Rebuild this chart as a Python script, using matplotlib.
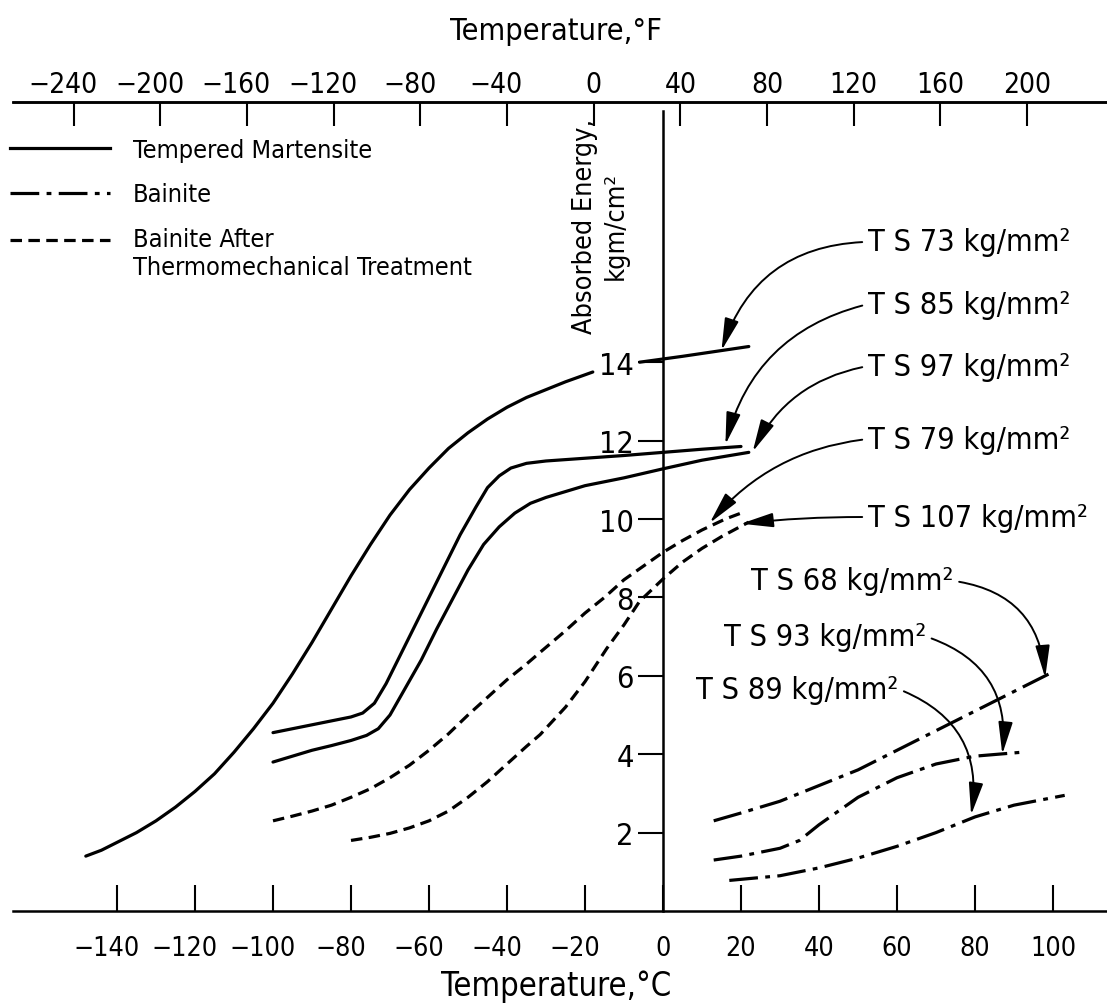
import matplotlib
matplotlib.use("Agg")
import matplotlib.pyplot as plt
from matplotlib.lines import Line2D
from matplotlib import font_manager as fm

# ---------------- font: prefer a condensed sans face if one is installed ----------------
chosen = None
for f in fm.fontManager.ttflist:
    nm = f.name
    if f.style != 'normal' or 'Mono' in nm or 'Serif' in nm:
        continue
    if str(f.weight).lower() not in ('400', 'normal', 'regular', 'book'):
        continue
    if ('Narrow' in nm or 'Condensed' in nm or
            str(f.stretch) in ('condensed', 'semi-condensed', 'extra-condensed', 'ultra-condensed')):
        chosen = f
        break
if chosen is not None:
    plt.rcParams['font.family'] = [chosen.name, 'DejaVu Sans']
    plt.rcParams['font.stretch'] = chosen.stretch
else:
    plt.rcParams['font.family'] = ['Liberation Sans', 'DejaVu Sans']

# ---------------- data ----------------
c_ticks = [-140, -120, -100, -80, -60, -40, -20, 0, 20, 40, 60, 80, 100]
f_ticks = [-240, -200, -160, -120, -80, -40, 0, 40, 80, 120, 160, 200]
e_ticks = [2, 4, 6, 8, 10, 12, 14]

# Tempered martensite
tm73_T = [-148, -144, -140, -135, -130, -125, -120, -115, -110, -105, -100, -95, -90, -85,
          -80, -75, -70, -65, -60, -55, -50, -45, -40, -35, -30, -25, -18]
tm73_E = [1.4, 1.55, 1.75, 2.0, 2.3, 2.65, 3.05, 3.5, 4.05, 4.65, 5.3, 6.05, 6.85, 7.7,
          8.55, 9.35, 10.1, 10.75, 11.3, 11.8, 12.2, 12.55, 12.85, 13.1, 13.3, 13.5, 13.75]
tm73b_T = [-6, 5, 22]
tm73b_E = [14.0, 14.15, 14.4]
tm85_T = [-100, -95, -90, -85, -80, -77, -74, -71, -68, -64, -60, -56, -52, -48, -45, -42,
          -39, -35, -30, -20, -10, 0, 10, 20]
tm85_E = [4.55, 4.65, 4.75, 4.85, 4.95, 5.05, 5.3, 5.8, 6.4, 7.2, 8.0, 8.8, 9.6, 10.3, 10.8, 11.1,
          11.3, 11.42, 11.48, 11.55, 11.62, 11.7, 11.78, 11.85]
tm97_T = [-100, -95, -90, -85, -80, -76, -73, -70, -66, -62, -58, -54, -50, -46, -42, -38,
          -34, -30, -25, -20, -10, 0, 10, 22]
tm97_E = [3.8, 3.95, 4.1, 4.22, 4.35, 4.48, 4.65, 5.0, 5.7, 6.4, 7.2, 7.95, 8.7, 9.35, 9.8, 10.15,
          10.4, 10.55, 10.7, 10.85, 11.05, 11.28, 11.5, 11.7]

# Bainite after thermomechanical treatment
tmt79_T = [-100, -95, -90, -85, -80, -75, -70, -65, -60, -55, -50, -45, -40, -35, -31.5,
           -25, -20, -15, -10, -5, 0, 5, 10, 16, 20]
tmt79_E = [2.3, 2.42, 2.55, 2.7, 2.9, 3.12, 3.4, 3.72, 4.1, 4.52, 5.0, 5.45, 5.9, 6.3, 6.6,
           7.15, 7.6, 8.0, 8.45, 8.8, 9.15, 9.45, 9.72, 10.0, 10.15]
tmt107_T = [-80, -75, -70, -65, -60, -55, -50, -45, -40, -35, -31.5, -25, -20, -14.4, -10,
            -6, 0, 5, 10, 15, 19.7, 22]
tmt107_E = [1.8, 1.88, 1.98, 2.12, 2.3, 2.55, 2.9, 3.3, 3.75, 4.2, 4.5, 5.2, 5.85, 6.7, 7.3,
            7.9, 8.47, 8.9, 9.25, 9.55, 9.8, 9.92]

# Bainite
b68_T = [13, 20, 30, 40, 50, 60, 70, 80, 90, 100]
b68_E = [2.3, 2.5, 2.8, 3.2, 3.6, 4.1, 4.6, 5.1, 5.6, 6.1]
b93_T = [13, 20, 30, 35, 40, 50, 60, 70, 80, 92]
b93_E = [1.3, 1.4, 1.6, 1.8, 2.2, 2.9, 3.4, 3.75, 3.95, 4.05]
b89_T = [17, 30, 40, 50, 60, 70, 80, 90, 103]
b89_E = [0.78, 0.9, 1.1, 1.35, 1.65, 2.0, 2.4, 2.7, 2.95]

legend_labels = ["Tempered Martensite", "Bainite",
                 "Bainite After\nThermomechanical Treatment"]

ann_labels = ["T S 73 kg/mm²", "T S 85 kg/mm²", "T S 97 kg/mm²", "T S 79 kg/mm²",
              "T S 107 kg/mm²", "T S 68 kg/mm²", "T S 93 kg/mm²", "T S 89 kg/mm²"]
ann_text_T = [52.5, 52.5, 52.5, 52.5, 52.5, 22.6, 15.6, 8.5]
ann_text_E = [17.07, 15.48, 13.9, 12.04, 10.05, 8.42, 7.0, 5.66]
ann_tip_T = [15, 16, 23, 12, 20, 98, 87, 79]
ann_tip_E = [14.3, 11.9, 11.72, 9.9, 9.88, 5.95, 4.0, 2.45]

# ---------------- layout ----------------
W, H = 1107, 1004
X0PX, PXC = 663.0, 3.9      # pixel of 0 degC, pixels per degC
Y0PX, PXE = 912.0, 39.2     # pixel of zero energy, pixels per unit


def px2T(px):
    return (px - X0PX) / PXC


def py2E(py):
    return (Y0PX - py) / PXE


def c2f(c):
    return c * 9.0 / 5.0 + 32.0


def f2c(f):
    return (f - 32.0) * 5.0 / 9.0


fig = plt.figure(figsize=(W / 100, H / 100), dpi=100)
renderer = fig.canvas.get_renderer()


def text_width_px(s, size):
    t = fig.text(0, 0, s, fontsize=size)
    w = t.get_window_extent(renderer).width
    t.remove()
    return w


def fit_size(targets, cap_px):
    """largest size whose widths stay within the targets and cap height within cap_px"""
    size = cap_px
    for s, wpx in targets:
        size = min(size, 100.0 * wpx / text_width_px(s, 100))
    return size


sz_bot = fit_size([("\u2212140", 71), ("100", 46)], 26)
sz_top = fit_size([("\u2212240", 76), ("200", 48)], 23)
sz_y = 22
sz_tf = fit_size([("Temperature,°F", 223)], 22)
sz_tc = fit_size([("Temperature,°C", 231)], 24)
sz_ylab = fit_size([("Absorbed Energy,", 215)], 21)
sz_leg = fit_size([("Tempered Martensite", 240), ("Thermomechanical Treatment", 385)], 22)
sz_ann = fit_size([("T S 73 kg/mm²", 222), ("T S 107 kg/mm²", 236)], 22)

left_px, top_px = 13, 103
ax = fig.add_axes([left_px / W, (H - Y0PX) / H, (W - left_px) / W, (Y0PX - top_px) / H])
ax.set_xlim(px2T(left_px), px2T(W))
ax.set_ylim(0, py2E(top_px))
ax.patch.set_alpha(0)

for s in ['bottom', 'top']:
    ax.spines[s].set_linewidth(1.8)
ax.spines['right'].set_visible(False)
ax.spines['left'].set_position(('data', 0))
ax.spines['left'].set_bounds(0, py2E(112))
ax.spines['left'].set_linewidth(1.8)

ax.set_xticks(c_ticks)
ax.tick_params(axis='x', direction='in', length=18.5, width=1.5,
               labelbottom=False, top=False)
ax.set_yticks(e_ticks)
ax.set_yticklabels([str(v) for v in e_ticks])
ax.tick_params(axis='y', direction='out', length=18, width=1.5, labelsize=sz_y, pad=3)

secax = ax.secondary_xaxis('top', functions=(c2f, f2c))
secax.set_xticks(f_ticks)
secax.tick_params(direction='in', length=17, width=1.5, labeltop=False)
secax.spines['top'].set_linewidth(1.8)

# tick labels: digits centred on the tick, minus sign hanging to the left
for v in c_ticks:
    lab = str(v).replace('-', '\u2212')
    hw = text_width_px(str(abs(v)), sz_bot) / 2 * 72 / 100
    ax.annotate(lab, xy=(v, 0), xycoords=('data', 'axes fraction'),
                xytext=(hw, -31.5), textcoords='offset points',
                ha='right', va='baseline', fontsize=sz_bot, annotation_clip=False)

for v in f_ticks:
    lab = str(v).replace('-', '\u2212')
    hw = text_width_px(str(abs(v)), sz_top) / 2 * 72 / 100
    ax.annotate(lab, xy=(f2c(v), 1), xycoords=('data', 'axes fraction'),
                xytext=(hw, 7.2), textcoords='offset points',
                ha='right', va='baseline', fontsize=sz_top, annotation_clip=False)

fig.text(556 / W, 1 - 40 / H, "Temperature,°F", ha='center', va='baseline', fontsize=sz_tf)
fig.text(556 / W, 1 - 996 / H, "Temperature,°C", ha='center', va='baseline', fontsize=sz_tc)

ax.text(px2T(600), py2E(226), "Absorbed Energy,\nkgm/cm²", rotation=90,
        ha='center', va='center', multialignment='center', fontsize=sz_ylab,
        linespacing=1.25)

# ---------------- curves ----------------
LW = 2.3
dashed = (0, (3.6, 2.0))
dashdot = (0, (9.0, 2.3, 1.5, 2.3))
kw = dict(color='black', lw=LW, solid_capstyle='round', dash_capstyle='butt')

ax.plot(tm73_T, tm73_E, **kw)
ax.plot(tm73b_T, tm73b_E, **kw)
ax.plot(tm85_T, tm85_E, **kw)
ax.plot(tm97_T, tm97_E, **kw)
ax.plot(tmt79_T, tmt79_E, ls=dashed, **kw)
ax.plot(tmt107_T, tmt107_E, ls=dashed, **kw)
ax.plot(b68_T, b68_E, ls=dashdot, **kw)
ax.plot(b93_T, b93_E, ls=dashdot, **kw)
ax.plot(b89_T, b89_E, ls=dashdot, **kw)

# ---------------- legend ----------------
em_leg = sz_leg * 100 / 72
handles = [Line2D([], [], color='black', lw=LW),
           Line2D([], [], color='black', lw=LW, ls=dashdot),
           Line2D([], [], color='black', lw=LW, ls=dashed)]
leg = ax.legend(handles, legend_labels, loc='upper left',
                bbox_to_anchor=(10 / W, 1 - 139 / H), bbox_transform=fig.transFigure,
                frameon=False, fontsize=sz_leg, handlelength=100 / em_leg,
                handletextpad=23 / em_leg, labelspacing=(45 - 0.97 * em_leg) / em_leg,
                borderpad=0, borderaxespad=0)
# put the last sample line level with the first line of its two-line label
hl = leg.legend_handles[2]
hl.set_ydata([y + 0.55 * sz_leg for y in hl.get_ydata()])

# ---------------- annotations ----------------
rads = [0.35, 0.3, 0.25, 0.2, 0.03, -0.4, -0.4, -0.4]
for i, lab in enumerate(ann_labels):
    right_side = i >= 5
    ax.annotate(lab, xy=(ann_tip_T[i], ann_tip_E[i]),
                xytext=(ann_text_T[i], ann_text_E[i]), textcoords='data',
                ha='left', va='center', fontsize=sz_ann,
                arrowprops=dict(arrowstyle='-|>,head_length=0.9,head_width=0.2',
                                connectionstyle=f'arc3,rad={rads[i]}',
                                lw=1.4, color='black', shrinkA=2, shrinkB=0,
                                relpos=(1.0, 0.5) if right_side else (0.0, 0.5)))

fig.savefig("out.png", dpi=100, facecolor='white')
